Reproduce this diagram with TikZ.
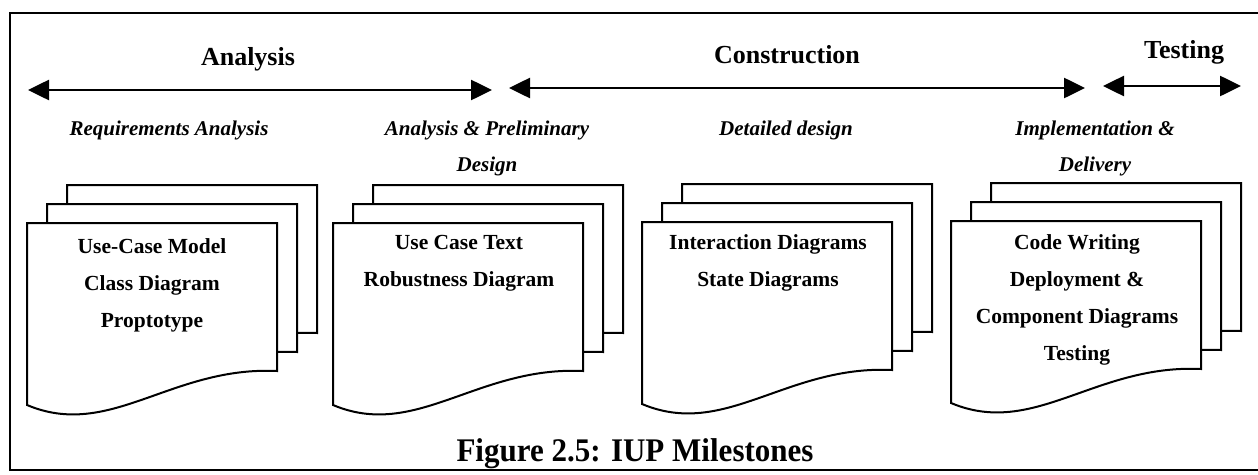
\documentclass[tikz,border=0pt]{standalone}
\usepackage{fontspec}
\usepackage{graphicx}
\setmainfont{Liberation Serif}
\usetikzlibrary{arrows.meta}

\tikzset{
  phase/.style={font=\fontsize{26}{30}\selectfont\bfseries, anchor=base, inner sep=0pt},
  activity/.style={font=\fontsize{21}{36}\selectfont\bfseries\itshape, anchor=north, align=center, inner sep=0pt},
  pagetext/.style={font=\fontsize{21.5}{37}\selectfont\bfseries, anchor=north, align=center, inner sep=0pt},
  page/.style={draw=black, fill=white, line width=2pt, line join=miter},
  span/.style={line width=2.6pt, {Triangle[length=21pt,width=20pt]}-{Triangle[length=21pt,width=20pt]}},
  frame/.style={line width=2.5pt},
}

% three stacked document sheets; #1,#2 = top-left corner of the front sheet
\newcommand{\pagestack}[2]{%
  \foreach \k in {2,1,0}{%
    \begin{scope}[shift={(#1+20*\k,#2-19*\k)}]
      \draw[page] (0,182) .. controls +(83,35) and +(-106,-5) .. (250,148)
        -- (250,0) -- (0,0) -- cycle;
    \end{scope}}}

\begin{document}
\begin{tikzpicture}[x=1pt,y=-1pt]
\useasboundingbox (0,0) rectangle (1258,474);

% outer frame (open on the right)
\draw[frame] (1258,13) -- (10,13) -- (10,470) -- (1258,470);

% phase names
\node[phase] (analysis) at (248,65) {Analysis};
\node[phase] (construction) at (787,63) {Construction};
\node[phase] (testing) at (1184,58) {Testing};

% phase spans
\coordinate (a1) at (28,90);   \coordinate (a2) at (492,90);
\coordinate (c1) at (509,88);  \coordinate (c2) at (1085,88);
\coordinate (t1) at (1103,86); \coordinate (t2) at (1241,86);
\draw[span] (a1) -- (a2);
\draw[span] (c1) -- (c2);
\draw[span] (t1) -- (t2);

% activities
\node[activity] (req) at (169,121) {Requirements Analysis};
\node[activity] (prelim) at (487,121) {Analysis \& Preliminary\\Design};
\node[activity] (detail) at (786,121) {Detailed design};
\node[activity] (impl) at (1095,121) {Implementation \&\\Delivery};

% document stacks
\pagestack{27}{223}
\pagestack{333}{223}
\pagestack{642}{222}
\pagestack{951}{221}

\node[pagetext] (doc1) at (152,238) {Use-Case Model\\Class Diagram\\Proptotype};
\node[pagetext] (doc2) at (459,235) {Use Case Text\\Robustness Diagram};
\node[pagetext] (doc3) at (768,234) {Interaction Diagrams\\State Diagrams};
\node[pagetext] (doc4) at (1077,234) {Code Writing\\Deployment \&\\Component Diagrams\\Testing};

% caption
\node[anchor=base, inner sep=0pt, font=\fontsize{33}{36}\selectfont\bfseries] (caption) at (635,461)
  {\scalebox{0.94}[1]{Figure 2.5: IUP Milestones}};
\end{tikzpicture}
\end{document}
